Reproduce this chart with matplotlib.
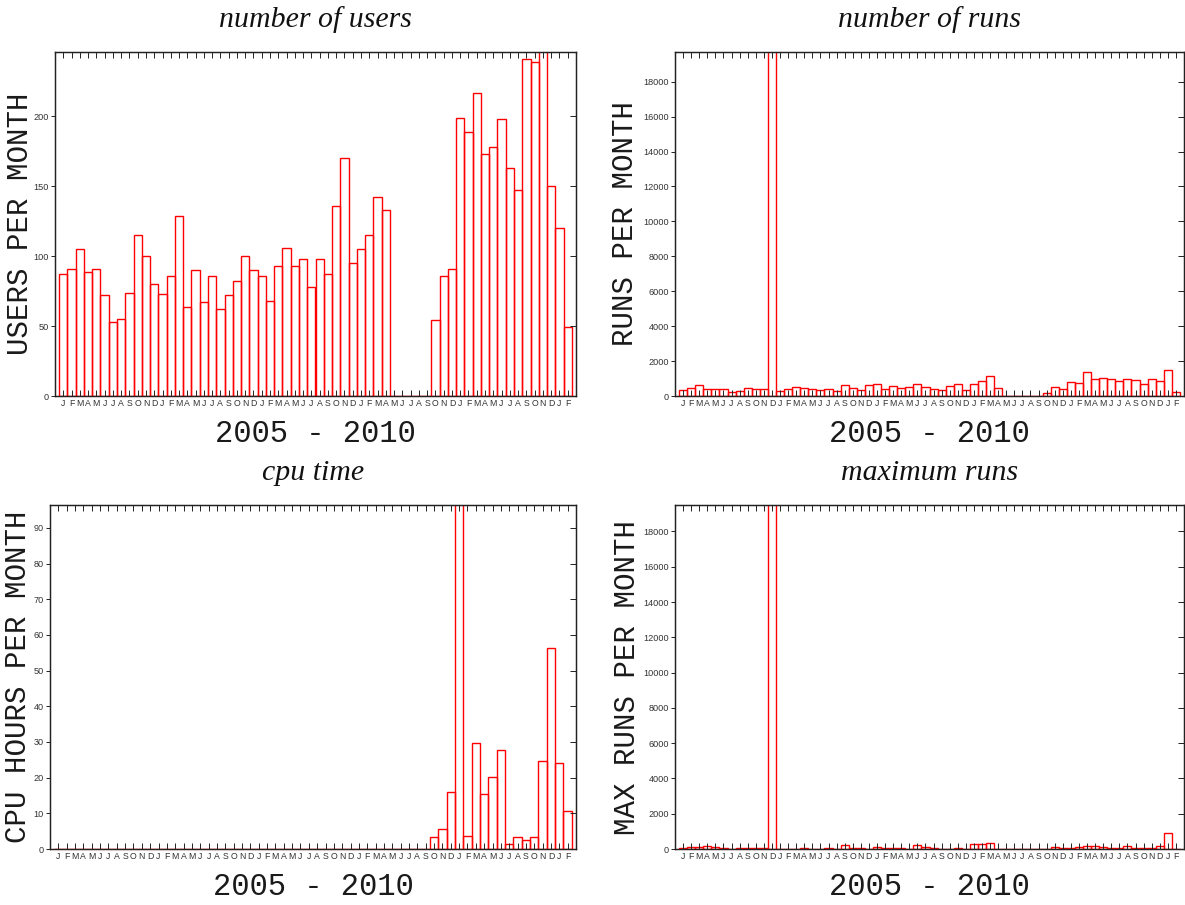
import matplotlib
matplotlib.use("Agg")
import matplotlib.pyplot as plt

# ---- data (Jan 2005 .. Feb 2010, one value per month) ----
month_labels = list("JFMAMJJASOND") * 5 + list("JF")

users = [87, 91, 105, 89, 91, 72, 53, 55, 74, 115, 100, 80,
         73, 86, 129, 64, 90, 67, 86, 62, 72, 82, 100, 90,
         86, 68, 93, 106, 93, 98, 78, 98, 87, 136, 170, 95,
         105, 115, 142, 133, 0, 0, 0, 0, 0, 54, 86, 91,
         199, 189, 217, 173, 178, 198, 163, 147, 241, 239, 262, 150,
         120, 49]

runs = [320, 475, 610, 420, 380, 380, 230, 265, 475, 420, 380, 25000,
        300, 380, 495, 440, 380, 320, 420, 265, 610, 455, 360, 610,
        665, 380, 550, 455, 495, 685, 495, 420, 320, 550, 705, 360,
        685, 835, 1160, 475, 0, 0, 0, 0, 0, 190, 495, 420,
        800, 760, 1390, 990, 1030, 990, 835, 950, 910, 705, 950, 855,
        1480, 250]

cpu_hours = [0] * 45 + [3.3, 5.5, 16.1,
             120, 3.6, 29.6, 15.3, 20.3, 27.8, 1.5, 3.3, 2.4, 3.5, 24.8, 56.4,
             24.1, 10.6]

max_runs = [40, 130, 130, 150, 95, 75, 20, 55, 75, 40, 55, 25000,
            20, 20, 20, 75, 20, 20, 75, 20, 210, 55, 40, 20,
            95, 40, 75, 40, 20, 245, 95, 55, 20, 20, 40, 20,
            265, 265, 320, 20, 0, 0, 0, 0, 0, 20, 95, 55,
            55, 95, 190, 190, 115, 75, 55, 150, 40, 40, 75, 150,
            910, 20]

titles = ["number of users", "number of runs", "cpu time", "maximum runs"]
ylabels = ["USERS PER MONTH", "RUNS PER MONTH", "CPU HOURS PER MONTH", "MAX RUNS PER MONTH"]
xlabel = "2005 - 2010"
yticks_list = [list(range(0, 201, 50)), list(range(0, 18001, 2000)),
               list(range(0, 91, 10)), list(range(0, 18001, 2000))]
ylims = [246, 19700, 96.4, 19500]
series = [users, runs, cpu_hours, max_runs]

W, H = 1185, 905
fig = plt.figure(figsize=(W / 100, H / 100), dpi=100)

# pixel boxes: left, right, top, bottom
boxes = [(55, 576, 52, 396), (675, 1184, 52, 396),
         (50, 576, 505, 849), (675, 1184, 505, 849)]
ylabel_x = [20, 625, 18, 627]

MONO = ["Liberation Mono", "DejaVu Sans Mono"]
SERIF = ["Liberation Serif", "DejaVu Serif"]
SANS = ["Liberation Sans", "DejaVu Sans"]

for k in range(4):
    l, r, t, b = boxes[k]
    ax = fig.add_axes([l / W, 1 - b / H, (r - l) / W, (b - t) / H])
    vals = series[k]
    x = list(range(len(vals)))
    ax.bar(x, vals, width=1.0, facecolor="none", edgecolor="#ff0000",
           linewidth=1.0, align="center", zorder=1)
    ax.set_xlim(-1, 62)
    ax.set_ylim(0, ylims[k])

    ax.set_xticks(x)
    ax.set_xticklabels(month_labels, fontsize=6.3, family=SANS, color="#333333")
    ax.tick_params(axis="x", which="both", direction="in", length=4.0,
                   width=0.7, top=True, bottom=True, pad=2.5, color="#222222")
    ax.set_yticks(yticks_list[k])
    ax.set_yticklabels([str(v) for v in yticks_list[k]], fontsize=6.6,
                       family=SANS, color="#333333")
    ax.tick_params(axis="y", which="both", direction="out", length=3.0,
                   width=0.7, left=True, right=False, pad=1.5, color="#222222")

    # mirrored right-side ticks (pointing inward)
    axr = ax.twinx()
    axr.set_ylim(ax.get_ylim())
    axr.set_yticks(yticks_list[k])
    axr.tick_params(axis="y", direction="in", length=4.5, width=0.7,
                    labelright=False, color="#222222")
    for a in (ax, axr):
        for s in a.spines.values():
            s.set_linewidth(0.9)
            s.set_color("#222222")
    ax.spines["bottom"].set_color("#6a0000")

    cx = (l + r) / 2
    fig.text(cx / W, 1 - (t - 32) / H, titles[k], ha="center", va="center",
             fontsize=21.5, style="italic", family=SERIF, color="#111111")
    fig.text(cx / W, 1 - (b + 38) / H, xlabel, ha="center", va="center",
             fontsize=22, family=MONO, color="#1a1a1a")
    fig.text(ylabel_x[k] / W, 1 - ((t + b) / 2) / H, ylabels[k], ha="center",
             va="center", rotation=90, fontsize=21, family=MONO, color="#1a1a1a")

fig.savefig("out.png", dpi=100)
